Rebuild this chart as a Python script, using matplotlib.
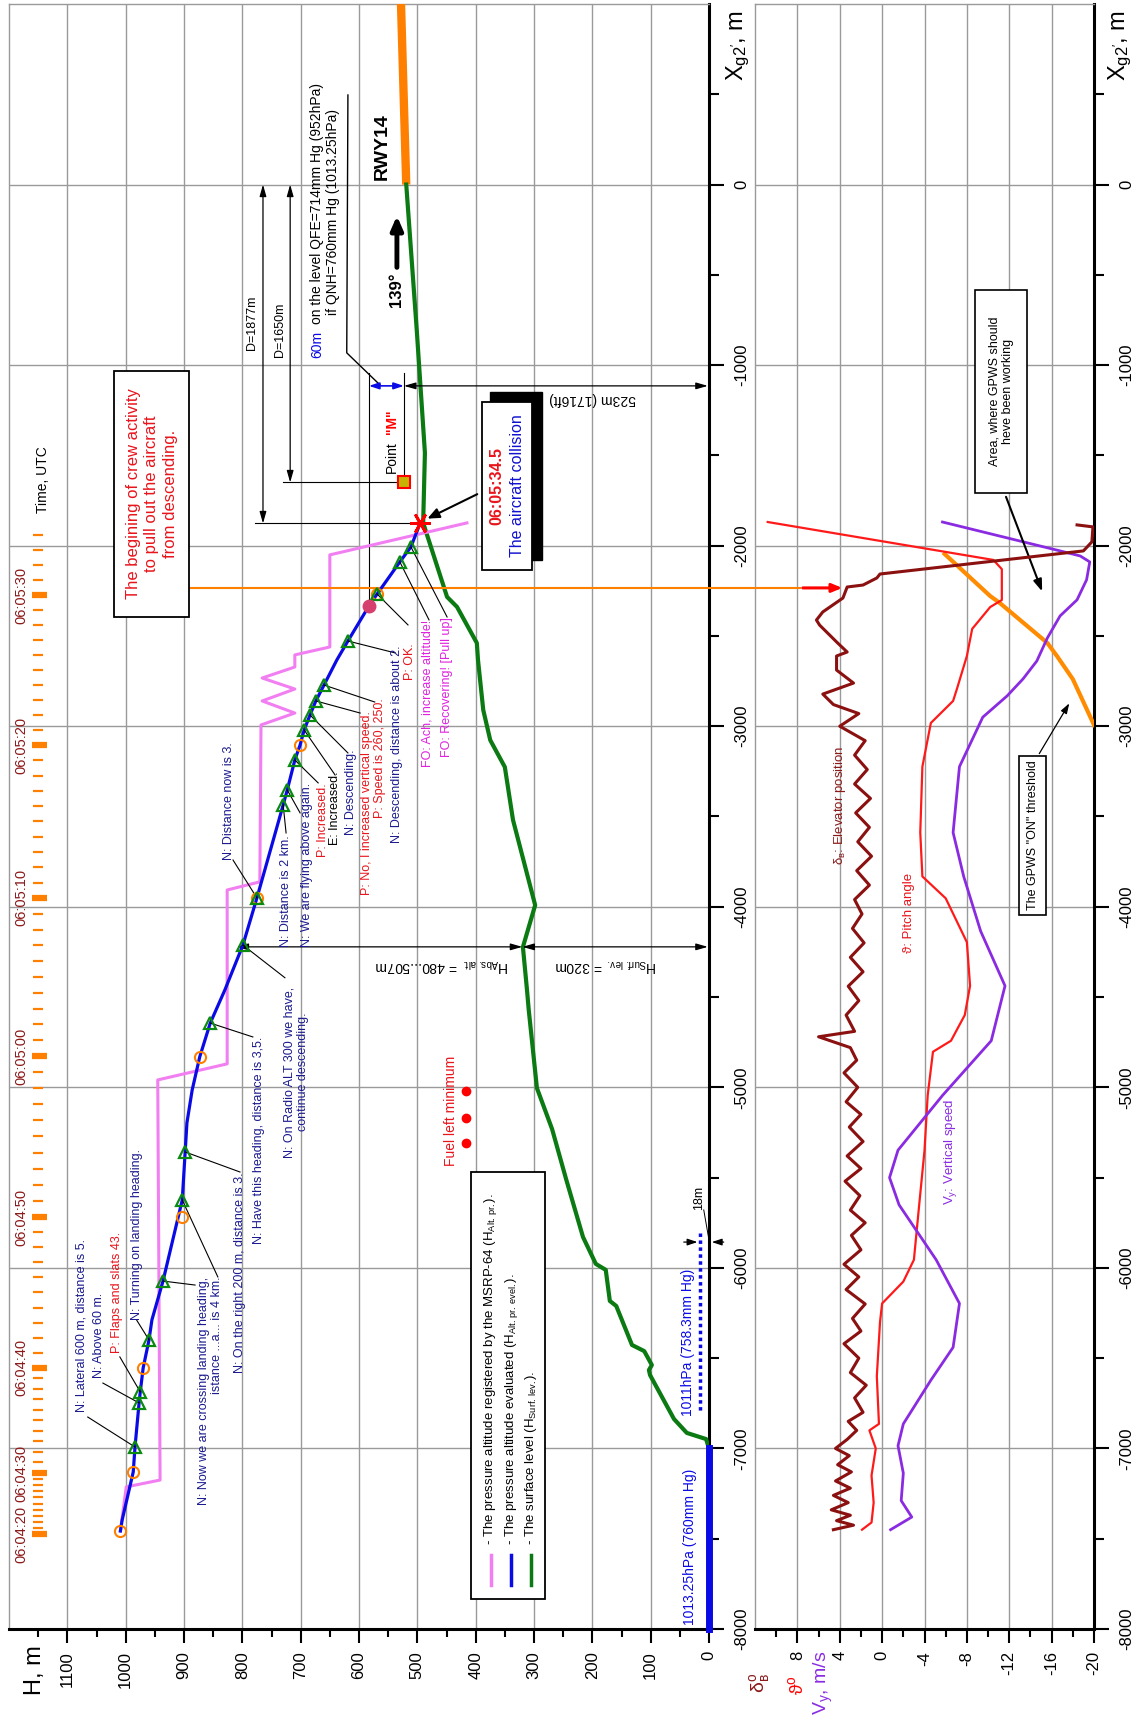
import matplotlib

matplotlib.use("Agg")
import matplotlib.pyplot as plt
from matplotlib.patches import Rectangle
import numpy as np

plt.rcParams["font.family"] = ["Liberation Sans", "DejaVu Sans"]
plt.rcParams["mathtext.fontset"] = "custom"
plt.rcParams["mathtext.rm"] = "Liberation Sans"
plt.rcParams["mathtext.it"] = "Liberation Sans:italic"
plt.rcParams["mathtext.bf"] = "Liberation Sans:bold"

# ---------------- data (X_g2 along track, m ; H altitude, m) ----------------
X_EVEL = [-7457, -7396, -7130, -6992, -6748, -6687, -6554, -6399, -6288, -6073,
          -5624, -5358, -5197, -5015, -4831, -4644, -4461, -4212, -3951, -3436,
          -3353, -3187, -3104, -3021, -2938, -2860, -2772, -2633, -2528, -2334,
          -2268, -2090, -2007, -1874]
H_EVEL = [1009, 1006, 987, 984, 977, 975, 970, 960, 955, 936,
          903, 898, 895, 886, 873, 855, 830, 799, 775, 730,
          723, 710, 701, 694, 684, 674, 660, 638, 619, 583,
          569, 530, 511, 495]

X_PR = [-7457, -7213, -7175, -4959, -4870, -3907, -3862, -2993, -2927, -2860,
        -2794, -2733, -2672, -2605, -2561, -2051, -1874]
H_PR = [1009, 999, 941, 945, 826, 826, 770, 768, 710, 766,
        710, 766, 710, 710, 650, 650, 415]

X_SURF = [-7000, -6948, -6914, -6837, -6594, -6566, -6538, -6461, -6427, -6211,
          -6183, -6011, -5978, -5829, -5508, -5231, -5004, -4572, -4461, -4223,
          -3991, -3519, -3226, -3077, -2910, -2633, -2539, -2339, -2284, -1874,
          -1486, -806, 0]
H_SURF = [0, 5, 38, 60, 101, 103, 98, 111, 132, 159,
          170, 177, 194, 216, 245, 269, 295, 309, 312, 319,
          298, 336, 350, 375, 387, 396, 398, 432, 449, 490,
          487, 501, 519]

X_RWY = [0, 1000]
H_RWY = [519, 528]

# crew comments (markers on the evaluated trajectory)
X_TRI = [-6992, -6748, -6687, -6399, -6073, -5624, -5358, -4644, -4212, -3951,
         -3436, -3353, -3187, -3021, -2938, -2860, -2772, -2528, -2268, -2090, -2007]
H_TRI = [984, 977, 975, 960, 936, 903, 898, 855, 799, 775,
         730, 723, 710, 694, 684, 674, 660, 619, 569, 530, 511]

# 10-second marks on trajectory
X_CIRC = [-7457, -7130, -6554, -5718, -4831, -3951, -3104, -2268]
H_CIRC = [1009, 987, 970, 903, 873, 775, 701, 569]

# time scale
TIME_LABELS = ["06:04:20", "06:04:30", "06:04:40", "06:04:50",
               "06:05:00", "06:05:10", "06:05:20", "06:05:30"]
TIME_X = [-7475, -7136, -6554, -5718, -4826, -3951, -3104, -2273]

X_FUEL = [-5020, -5170, -5308]
H_FUEL = [417, 417, 417]

# lower panel: elevator, pitch, vertical speed, GPWS threshold
X_ELEV = [-7450, -7425, -7400, -7370, -7340, -7300, -7260, -7220, -7180, -7130,
          -7090, -7040, -7000, -6950, -6900, -6850, -6800, -6720, -6650, -6580,
          -6500, -6420, -6350, -6280, -6200, -6120, -6050, -5980, -5900, -5820,
          -5750, -5680, -5600, -5520, -5450, -5380, -5300, -5220, -5150, -5080,
          -5000, -4920, -4850, -4780, -4720, -4690, -4600, -4520, -4440, -4360,
          -4280, -4200, -4120, -4040, -3960, -3880, -3800, -3720, -3640, -3560,
          -3480, -3400, -3320, -3240, -3160, -3080, -3000, -2930, -2880, -2822,
          -2761, -2689, -2611, -2589, -2539, -2440, -2412, -2367, -2290, -2229,
          -2218, -2179, -2157, -2029, -1979, -1896, -1885]
ELEV = [4.6, 2.7, 4.3, 3.0, 4.8, 3.2, 4.6, 3.0, 4.4, 2.9,
        4.2, 3.1, 4.4, 3.3, 2.4, 3.2, 1.8, 2.6, 1.5, 3.0,
        2.2, 3.6, 2.0, 2.8, 1.6, 3.4, 2.2, 3.6, 2.0, 2.9,
        1.6, 3.0, 2.1, 3.5, 2.0, 3.3, 1.8, 3.1, 2.0, 3.4,
        2.3, 3.6, 2.4, 3.0, 6.0, 2.6, 3.4, 2.2, 3.2, 1.8,
        3.0, 1.7, 2.8, 1.9, 2.6, 1.2, 2.4, 1.0, 2.3, 1.2,
        2.5, 1.1, 2.6, 1.4, 2.6, 1.6, 4.0, 2.2, 4.6, 5.6,
        2.7, 4.3, 4.3, 3.3, 4.2, 5.9, 6.2, 5.6, 3.7, 3.3,
        1.8, 0.5, 0.2, -19.0, -19.8, -19.9, -18.4]

X_PITCH = [-7450, -7410, -7300, -7150, -7000, -6900, -6864, -6600, -6300, -6197,
           -6076, -5955, -5650, -5350, -5045, -4803, -4742, -4600, -4438, -4196,
           -3953, -3832, -3589, -3224, -3103, -2982, -2860, -2786, -2611, -2461,
           -2340, -2301, -2130, -2079, -1869]
PITCH = [1.9, 1.0, 0.8, 1.0, 0.6, 1.2, 0.3, 0.5, 0.2, 0.0,
         -2.0, -3.0, -3.5, -4.0, -4.3, -4.8, -6.5, -7.8, -8.3, -8.0,
         -6.0, -3.8, -3.6, -3.8, -4.2, -4.6, -6.7, -7.1, -8.0, -8.5,
         -10.2, -11.3, -11.3, -10.5, 10.8]

X_VY = [-7450, -7380, -7289, -7137, -6985, -6864, -6622, -6440, -6197, -5955,
        -5651, -5500, -5348, -5045, -4742, -4438, -4135, -3832, -3589, -3224,
        -2950, -2832, -2738, -2639, -2511, -2389, -2300, -2189, -2090, -2057,
        -2029, -1869]
VY = [-0.8, -2.8, -1.8, -2.0, -1.5, -2.0, -4.6, -6.7, -7.3, -5.1,
      -1.6, -0.7, -1.5, -5.7, -10.3, -11.6, -9.3, -7.7, -6.7, -7.3,
      -9.5, -11.8, -13.3, -14.6, -15.6, -16.8, -18.4, -19.3, -19.6, -18.7,
      -16.8, -5.7]

X_GPWS = [-2046, -2279, -2317, -2539, -2611, -2739, -2993]
GPWS = [-5.9, -10.2, -11.1, -15.6, -16.5, -18.0, -20.0]

X_CREW = -2234   # beginning of crew activity
X_COLL = -1874   # collision
H_TICKS = list(range(0, 1101, 100))
V_TICKS = list(range(8, -21, -4))

BLUE = "#0a0ae6"
PINK = "#f27ff2"
GREEN = "#0b7a12"
ORANGE = "#ff8000"
NAVY = "#1a1a8e"
RED = "#e8141b"
MAG = "#e020e0"
DKRED = "#8b1a1a"
GRID = "#9a9a9a"

W, HPX = 1137, 1717
fig = plt.figure(figsize=(W / 100, HPX / 100), dpi=100)
ax1 = fig.add_axes([9 / W, 88 / HPX, 700 / W, 1625 / HPX])
ax2 = fig.add_axes([755 / W, 88 / HPX, 339 / W, 1625 / HPX])

for ax in (ax1, ax2):
    ax.set_ylim(-8000, 1000)
    ax.set_yticks(np.arange(-8000, 1, 1000))
    ax.set_yticks(np.arange(-7500, 1000, 1000), minor=True)
    ax.set_yticklabels([str(v) for v in range(-8000, 1, 1000)])
    ax.tick_params(axis="y", which="both", left=False, right=True, labelleft=False,
                   labelright=True, direction="out", labelrotation=90, labelsize=12)
    ax.tick_params(axis="y", which="major", length=11, width=1.5, pad=7)
    ax.tick_params(axis="y", which="minor", length=7, width=1.5)
    ax.tick_params(axis="x", which="major", length=10, width=1.5, labelrotation=90,
                   labelsize=12, pad=6, direction="out")
    ax.tick_params(axis="x", which="minor", length=6, width=1.5, direction="out")
    plt.setp(ax.get_yticklabels(), va="center")
    for s in ("left", "top"):
        ax.spines[s].set_color(GRID)
        ax.spines[s].set_linewidth(1)
    for s in ("right", "bottom"):
        ax.spines[s].set_color("black")
        ax.spines[s].set_linewidth(2.2)
    ax.set_axisbelow(True)

# ---------------- upper panel (H) ----------------
ax1.set_xlim(1200, 0)
ax1.set_xticks(H_TICKS)
ax1.set_xticks(np.arange(50, 1200, 100), minor=True)
ax1.set_xticklabels([str(v) for v in H_TICKS])
for h in H_TICKS[1:]:
    ax1.axvline(h, color=GRID, lw=1, zorder=0)
for x in range(-7000, 1, 1000):
    ax1.axhline(x, color=GRID, lw=1, zorder=0)

ax1.plot(H_RWY, X_RWY, color=ORANGE, lw=6, solid_capstyle="butt", zorder=3)
ax1.plot(H_SURF, X_SURF, color=GREEN, lw=3, zorder=3)
ax1.plot(H_PR, X_PR, color=PINK, lw=2.2, zorder=3)
ax1.plot(H_EVEL, X_EVEL, color=BLUE, lw=2.3, zorder=4)
ax1.plot(H_TRI, X_TRI, ls="none", marker="^", ms=8, mfc="none", mec="#0b8a12", mew=1.6, zorder=6)
ax1.plot(H_CIRC, X_CIRC, ls="none", marker="o", ms=8, mfc="none", mec=ORANGE, mew=1.5, zorder=5)
ax1.plot([0, 0], [-8000, -7000], color=BLUE, lw=5, clip_on=False, zorder=5)
ax1.plot([15, 15], [-5807, -6798], color=BLUE, lw=2.5, ls=(0, (1, 1)), zorder=4)
ax1.plot(H_FUEL, X_FUEL, ls="none", marker="o", ms=6, color="red")

# time scale
sec_x = []
for a, b in zip(TIME_X[:-1], TIME_X[1:]):
    sec_x += list(np.linspace(a, b, 11)[1:-1])
step = (TIME_X[-1] - TIME_X[-2]) / 10
sec_x += [TIME_X[-1] + step * k for k in range(1, 5)]
ax1.hlines(sec_x, 1142, 1159, color=ORANGE, lw=1.6, zorder=2)
ax1.hlines(TIME_X, 1135, 1161, color=ORANGE, lw=4.5, zorder=2)
for lab, tx in zip(TIME_LABELS, TIME_X):
    ax1.text(1178, tx, lab, rotation=90, ha="center", va="center", color=DKRED, fontsize=10.5)
ax1.text(1142, -1636, "Time, UTC", rotation=90, ha="center", va="center", fontsize=10)

# crew activity
ax1.add_patch(Rectangle((891, -2395), 129, 1362, fc="white", ec="black", lw=1.3, zorder=6))
ax1.text(955, -1714, "The begining of crew activity\nto pull out the aircraft\nfrom descending.",
         rotation=90, ha="center", va="center", multialignment="center", color=RED,
         fontsize=12, linespacing=1.3, zorder=7)
ax1.plot([891, -79], [X_CREW, X_CREW], color=ORANGE, lw=1.5, clip_on=False, zorder=3)

# collision
ax1.add_patch(Rectangle((286, -2079), 89, 930, fc="black", ec="black", zorder=6))
ax1.add_patch(Rectangle((304, -2134), 85, 930, fc="white", ec="black", lw=1.3, zorder=7))
ax1.text(363, -1669, "06:05:34.5", rotation=90, ha="center", va="center", color=RED,
         fontsize=11.5, fontweight="bold", zorder=8)
ax1.text(329, -1669, "The aircraft collision", rotation=90, ha="center", va="center",
         color="#1010d0", fontsize=11.5, zorder=8)
ax1.annotate("", xy=(487, -1857), xytext=(393, -1708),
             arrowprops=dict(arrowstyle="-|>,head_length=0.7,head_width=0.3", color="black", lw=1.5),
             zorder=8)
ax1.plot(H_EVEL[-1], X_COLL, marker=(6, 2, 90), ms=15, mew=2, color="red", zorder=9)

# red circle / point M
ax1.plot(583, -2334, marker="o", ms=9, mfc="#d6406e", mec="#d6406e", zorder=7)
ax1.plot(523, -1650, marker="s", ms=9, mfc="#c8b400", mec="red", mew=1.5, zorder=7)

# dimensions
arr = dict(arrowstyle="<|-|>,head_length=0.7,head_width=0.2", color="black", lw=0.9,
           shrinkA=0, shrinkB=0)
ax1.annotate("", xy=(764.6, 0), xytext=(764.6, -1877), arrowprops=arr)
ax1.annotate("", xy=(718, 0), xytext=(718, -1650), arrowprops=arr)
ax1.plot([778, 495], [-1877, -1877], color="black", lw=0.8)
ax1.plot([731, 523], [-1650, -1650], color="black", lw=0.8)
ax1.text(783, -767, "D=1877m", rotation=90, ha="center", va="center", fontsize=9)
ax1.text(735, -806, "D=1650m", rotation=90, ha="center", va="center", fontsize=9)

ax1.annotate("", xy=(2, -1115), xytext=(523, -1115), arrowprops=arr)
ax1.annotate("", xy=(583, -1115), xytext=(523, -1115),
             arrowprops=dict(arrowstyle="<|-|>,head_length=0.6,head_width=0.2", color=BLUE,
                             lw=1.2, shrinkA=0, shrinkB=0))
ax1.plot([583, 583], [-1044, -2334], color="black", lw=0.8)
ax1.plot([523, 523], [-1044, -1650], color="black", lw=0.8)
ax1.plot([619, 621, 564], [496, -932, -1110], color="black", lw=1)
ax1.text(200, -1188, "523m (1716ft)", rotation=180, ha="center", va="center", fontsize=10)
ax1.text(672, -960, "60m", rotation=90, rotation_mode="anchor", ha="left", va="center",
         color=BLUE, fontsize=10)
ax1.text(672, -770, "on the level QFE=714mm Hg (952hPa)", rotation=90, rotation_mode="anchor",
         ha="left", va="center", fontsize=10)
ax1.text(645, -152, "if QNH=760mm Hg (1013.25hPa)", rotation=90, ha="center", va="center",
         fontsize=10)
ax1.text(543, -1598, "Point", rotation=90, rotation_mode="anchor", ha="left", va="center",
         fontsize=10)
ax1.text(543, -1380, '"M"', rotation=90, rotation_mode="anchor", ha="left", va="center",
         fontsize=10, color="red", fontweight="bold")

ax1.text(561, 25, "RWY14", rotation=90, rotation_mode="anchor", ha="left", va="center",
         fontsize=14, fontweight="bold")
ax1.text(535, -678, "139°", rotation=90, rotation_mode="anchor", ha="left", va="center",
         fontsize=12, fontweight="bold")
ax1.annotate("", xy=(535, -158), xytext=(535, -474),
             arrowprops=dict(arrowstyle="-|>,head_length=0.8,head_width=0.35", color="black",
                             lw=3.5))

ax1.annotate("", xy=(810, -4222), xytext=(320, -4222), arrowprops=arr)
ax1.annotate("", xy=(320, -4222), xytext=(2, -4222), arrowprops=arr)
ax1.text(458, -4322, r"H$_{\rm Abs.\,alt.}$ = 480...507m", rotation=180, ha="center",
         va="center", fontsize=10)
ax1.text(177, -4322, r"H$_{\rm Surf.\,lev.}$ = 320m", rotation=180, ha="center",
         va="center", fontsize=10)

# pressure level notes
ax1.text(33, -7976, "1013.25hPa (760mm Hg)", rotation=90, rotation_mode="anchor", ha="left",
         va="center", color=BLUE, fontsize=10)
ax1.text(36, -6820, "1011hPa (758.3mm Hg)", rotation=90, rotation_mode="anchor", ha="left",
         va="center", color=BLUE, fontsize=10)
ax1.annotate("", xy=(15, -5857), xytext=(48, -5857),
             arrowprops=dict(arrowstyle="-|>,head_length=0.6,head_width=0.2", color="black", lw=0.9))
ax1.annotate("", xy=(0, -5857), xytext=(-30, -5857), annotation_clip=False,
             arrowprops=dict(arrowstyle="-|>,head_length=0.6,head_width=0.2", color="black", lw=0.9))
ax1.plot([9, 0], [-5679, -5846], color="black", lw=0.7)
ax1.text(17, -5679, "18m", rotation=90, rotation_mode="anchor", ha="left", va="center", fontsize=9)

ax1.text(442, -5436, "Fuel left minimum", rotation=90, rotation_mode="anchor", ha="left",
         va="center", color=RED, fontsize=10)

# legend box
ax1.add_patch(Rectangle((281, -7834), 127, 2365, fc="white", ec="black", lw=1.3, zorder=6))
leg = [(374, PINK, r"- The pressure altitude registered by the MSRP-64 (H$_{\rm Alt.\,pr.}$)."),
       (339, BLUE, r"- The pressure altitude evaluated (H$_{\rm Alt.\,pr.\,evel.}$)."),
       (305, GREEN, r"- The surface level (H$_{\rm Surf.\,lev.}$).")]
for hh, col, txt in leg:
    ax1.plot([hh, hh], [-7757, -7591], color=col, lw=2.5, zorder=7)
    ax1.text(hh, -7535, txt, rotation=90, rotation_mode="anchor", ha="left", va="center",
             fontsize=9.5, zorder=7)

# crew comments
notes = [
    (1075, -6798, "N: Lateral 600 m, distance is 5.", NAVY, "left"),
    (1046, -6610, "N: Above 60 m.", NAVY, "left"),
    (1015, -6471, "P: Flaps and slats 43.", RED, "left"),
    (981, -6289, "N: Turning on landing heading.", NAVY, "left"),
    (855, -6050, "N: Now we are crossing landing heading,\nistance ...a... is 4 km.", NAVY, "right"),
    (804, -5469, "N: On the right 200 m, distance is 3.", NAVY, "right"),
    (771, -4721, "N: Have this heading, distance is 3,5.", NAVY, "right"),
    (708, -4915, "N: On Radio ALT 300 we have,\ncontinue descending.", NAVY, "center"),
    (823, -3741, "N: Distance now is 3.", NAVY, "left"),
    (725, -4222, "N: Distance is 2 km.", NAVY, "left"),
    (689, -4222, "N: We are flying above again.", NAVY, "left"),
    (662, -3724, "P: Increased.", RED, "left"),
    (641, -3658, "E: Increased.", "black", "left"),
    (614, -3602, "N: Descending.", NAVY, "left"),
    (586, -3935, "P: No, I increased vertical speed.", RED, "left"),
    (564, -3508, "P: Speed is 260, 250.", RED, "left"),
    (535, -3647, "N: Descending, distance is about 2.", NAVY, "left"),
    (513, -2744, "P: OK.", RED, "left"),
    (482, -3226, "FO: Ach, increase altitude!", MAG, "left"),
    (449, -3170, "FO: Recovering! [Pull up]", MAG, "left"),
]
for hh, xx, txt, col, ha in notes:
    ax1.text(hh, xx, txt, rotation=90, rotation_mode="anchor", ha=ha, va="center",
             multialignment=ha, color=col, fontsize=9, linespacing=1.15, zorder=5)

leaders = [((1065, -6826), (984, -6992)), ((1039, -6638), (977, -6748)),
           ((1010, -6493), (975, -6687)), ((981, -6290), (960, -6399)),
           ((881, -6095), (936, -6073)), ((842, -6050), (903, -5624)),
           ((804, -5469), (898, -5358)), ((782, -4721), (855, -4644)),
           ((727, -4393), (799, -4212)), ((816, -3741), (775, -3951)),
           ((725, -3591), (730, -3436)), ((701, -3480), (723, -3353)),
           ((670, -3314), (710, -3187)), ((641, -3270), (694, -3021)),
           ((619, -3148), (684, -2938)), ((598, -2927), (674, -2860)),
           ((573, -2866), (660, -2772)), ((538, -2594), (619, -2528)),
           ((516, -2439), (569, -2268)), ((480, -2411), (530, -2090)),
           ((449, -2395), (511, -2007))]
for (h1, x1), (h2, x2) in leaders:
    ax1.plot([h1, h2], [x1, x2], color="black", lw=0.8, zorder=4)

# ---------------- lower panel (angles / vertical speed) ----------------
ax2.set_xlim(12, -20)
ax2.set_xticks(V_TICKS)
ax2.set_xticks(np.arange(10, -20, -4), minor=True)
ax2.set_xticklabels([str(v) for v in V_TICKS])
for v in V_TICKS[:-1]:
    ax2.axvline(v, color=GRID, lw=1, zorder=0)
for x in range(-7000, 1, 1000):
    ax2.axhline(x, color=GRID, lw=1, zorder=0)

ax2.plot(GPWS, X_GPWS, color="#ff8c00", lw=3, zorder=3)
ax2.plot(PITCH, X_PITCH, color="#ff1a1a", lw=1.6, zorder=3)
ax2.plot(VY, X_VY, color="#8a2be2", lw=2, zorder=3)
ax2.plot(ELEV, X_ELEV, color="#8b1010", lw=2.2, zorder=4)
ax2.plot([12, 7.75], [X_CREW, X_CREW], color=ORANGE, lw=1.5, zorder=3)
ax2.annotate("", xy=(3.5, X_CREW), xytext=(7.75, X_CREW),
             arrowprops=dict(arrowstyle="-|>,head_length=0.6,head_width=0.25", color="red", lw=2.2))

ax2.text(4.0, -3768, r"δ$_{\rm в}$: Elevator position", rotation=90, rotation_mode="anchor",
         ha="left", va="center", color=DKRED, fontsize=9.5, zorder=6)
ax2.text(-2.5, -4255, "ϑ: Pitch angle", rotation=90, rotation_mode="anchor", ha="left",
         va="center", color=RED, fontsize=9.5)
ax2.text(-6.5, -5652, r"V$_{\rm y}$: Vertical speed", rotation=90, rotation_mode="anchor",
         ha="left", va="center", color="#8a2be2", fontsize=9.5)

ax2.add_patch(Rectangle((-13.7, -1709), 4.9, 1125, fc="white", ec="black", lw=1.2, zorder=5))
ax2.text(-11.25, -1146, "Area, where GPWS should\nheve been working", rotation=90,
         ha="center", va="center", multialignment="center", fontsize=9, zorder=6)
ax2.annotate("", xy=(-15.2, -2268), xytext=(-11.6, -1715),
             arrowprops=dict(arrowstyle="-|>,head_length=0.7,head_width=0.25", color="black", lw=1.5))
ax2.add_patch(Rectangle((-15.5, -4045), 2.6, 881, fc="white", ec="black", lw=1.2, zorder=5))
ax2.text(-14.2, -3605, 'The GPWS "ON" threshold', rotation=90, ha="center", va="center",
         fontsize=9, zorder=6)
ax2.annotate("", xy=(-17.8, -2860), xytext=(-14.7, -3165),
             arrowprops=dict(arrowstyle="-|>,head_length=0.6,head_width=0.2", color="black", lw=0.9))

# ---------------- axis titles ----------------
fig.text(738 / W, 1 - 45 / HPX, r"X$_{\rm g2'}$, m", rotation=90, ha="center", va="center",
         fontsize=17)
fig.text(1120 / W, 1 - 45 / HPX, r"X$_{\rm g2'}$, m", rotation=90, ha="center", va="center",
         fontsize=17)
fig.text(35 / W, 1 - 1670 / HPX, "H, m", rotation=90, ha="center", va="center", fontsize=17)
fig.text(760 / W, 1 - 1683 / HPX, r"δ$^{\rm o}_{\rm в}$", rotation=90, ha="center",
         va="center", fontsize=14, color=DKRED)
fig.text(797 / W, 1 - 1685 / HPX, r"ϑ$^{\rm o}$", rotation=90, ha="center", va="center",
         fontsize=14, color="red")
fig.text(823 / W, 1 - 1683 / HPX, r"V$_{\rm y}$, m/s", rotation=90, ha="center", va="center",
         fontsize=14, color="#8a2be2")

fig.savefig("out.png", dpi=100)
